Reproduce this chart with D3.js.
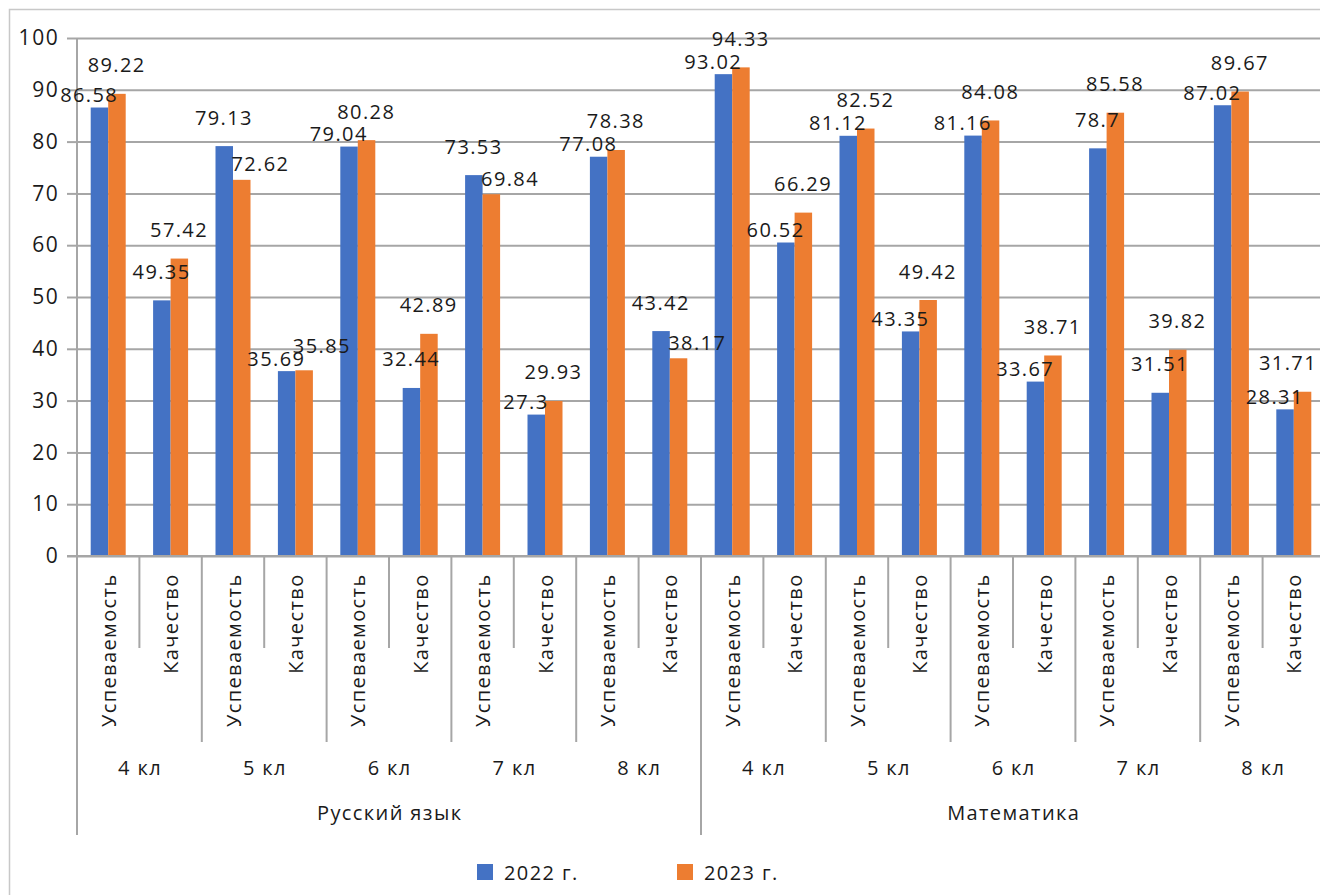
<!DOCTYPE html>
<html>
<head>
<meta charset="utf-8">
<script src="https://cdn.jsdelivr.net/npm/d3@7"></script>
<style>
  html, body { margin: 0; padding: 0; background: #fff; }
  svg { display: block; }
  text { font-family: "Open Sans", "Noto Sans", sans-serif; fill: #1a1a1a; letter-spacing: 1.4px; }
</style>
</head>
<body>
<svg id="chart" width="1320" height="895"></svg>
<script>
// ---- data ----
const subjects = ["Русский язык", "Математика"];
const classes = ["4 кл", "5 кл", "6 кл", "7 кл", "8 кл"];
const metrics = ["Успеваемость", "Качество"];
const seriesNames = ["2022 г.", "2023 г."];
const values2022 = [86.58, 49.35, 79.13, 35.69, 79.04, 32.44, 73.53, 27.3, 77.08, 43.42,
                    93.02, 60.52, 81.12, 43.35, 81.16, 33.67, 78.7, 31.51, 87.02, 28.31];
const values2023 = [89.22, 57.42, 72.62, 35.85, 80.28, 42.89, 69.84, 29.93, 78.38, 38.17,
                    94.33, 66.29, 82.52, 49.42, 84.08, 38.71, 85.58, 39.82, 89.67, 31.71];
const yTicks = [0, 10, 20, 30, 40, 50, 60, 70, 80, 90, 100];
const colors = ["#4472C4", "#ED7D31"];

// ---- build category rows ----
const rows = [];
subjects.forEach((s, si) => classes.forEach((c, ci) => metrics.forEach((m, mi) => {
  const i = rows.length;
  rows.push({ i, subject: s, cls: c, metric: m, v: [values2022[i], values2023[i]] });
})));

// ---- layout ----
const svg = d3.select("#chart");
const plotL = 77, plotR = 1325, plotT = 38, plotB = 556;
const chartRight = 1317;
const fs = 20;
const ls = 1.4;

const x = d3.scaleBand().domain(rows.map(r => r.i)).range([plotL, plotR]).paddingInner(0).paddingOuter(0);
const xs = d3.scaleBand().domain([0, 1]).range([0, x.bandwidth()]).paddingInner(0).paddingOuter(0.783);
const y = d3.scaleLinear().domain([0, 100]).range([plotB, plotT]);

// chart border (left & top visible)
svg.append("path").attr("d", `M9.5,895 V9.5 H1320`).attr("fill", "none")
  .attr("stroke", "#c8c8c8").attr("stroke-width", 1.5);

// gridlines
const grid = svg.append("g").attr("transform", `translate(${plotL},0)`)
  .call(d3.axisLeft(y).tickValues(yTicks).tickSize(-(plotR - plotL)).tickFormat(""));
grid.select(".domain").remove();
grid.selectAll("line").attr("stroke", "#a6a6a6").attr("stroke-width", 2);

// y axis
const yAx = svg.append("g").attr("transform", `translate(${plotL},0)`)
  .call(d3.axisLeft(y).tickValues(yTicks).tickSize(10).tickPadding(9 - ls).tickFormat(d3.format("d")));
yAx.select(".domain").remove();
yAx.selectAll("line").attr("stroke", "#a6a6a6").attr("stroke-width", 2);
yAx.selectAll("text").attr("font-size", fs + 1).attr("font-family", '"Open Sans", sans-serif')
  .attr("fill", "#1a1a1a").style("letter-spacing", "1.6px");

// bars
const barG = svg.append("g");
rows.forEach(r => {
  r.v.forEach((v, k) => {
    barG.append("rect")
      .attr("x", x(r.i) + xs(k))
      .attr("y", y(v))
      .attr("width", xs.bandwidth())
      .attr("height", y(0) - y(v))
      .attr("fill", colors[k]);
  });
});

// y axis vertical line & baseline
svg.append("line").attr("x1", plotL).attr("x2", plotL).attr("y1", plotT).attr("y2", 835)
  .attr("stroke", "#a6a6a6").attr("stroke-width", 2);
svg.append("line").attr("x1", plotL - 10).attr("x2", plotR).attr("y1", plotB).attr("y2", plotB)
  .attr("stroke", "#a6a6a6").attr("stroke-width", 2);

// category separators (multi-level)
const sepG = svg.append("g");
for (let b = 0; b <= rows.length; b++) {
  const bx = b < rows.length ? x(b) : plotR;
  let y2 = 648;
  if (b % 10 === 0) y2 = 835; else if (b % 2 === 0) y2 = 742;
  sepG.append("line").attr("x1", bx).attr("x2", bx).attr("y1", plotB).attr("y2", y2)
    .attr("stroke", "#a6a6a6").attr("stroke-width", 2);
}

// level 1 labels (rotated)
svg.append("g").selectAll("text").data(rows).join("text")
  .attr("transform", r => `translate(${x(r.i) + x.bandwidth() / 2},${572 + ls}) rotate(-90)`)
  .attr("text-anchor", "end").attr("dominant-baseline", "central")
  .attr("font-size", fs).text(r => r.metric);

// level 2 labels
const pairs = d3.range(0, rows.length, 2);
svg.append("g").selectAll("text").data(pairs).join("text")
  .attr("x", i => x(i) + x.bandwidth() + ls / 2)
  .attr("y", 767).attr("text-anchor", "middle").attr("dominant-baseline", "central")
  .attr("font-size", fs).text(i => rows[i].cls);

// level 3 labels
svg.append("g").selectAll("text").data(subjects).join("text")
  .attr("x", (s, si) => (x(si * 10) + (si * 10 + 10 < rows.length ? x(si * 10 + 10) : plotR)) / 2 + ls / 2)
  .attr("y", 812).attr("text-anchor", "middle").attr("dominant-baseline", "central")
  .attr("font-size", fs).text(s => s);

// data labels
const labG = svg.append("g");
rows.forEach(r => {
  const [b, o] = r.v;
  const diff = Math.abs(b - o);
  r.v.forEach((v, k) => {
    let dx = -1, dy = -29;
    const isLower = (k === 0 && b <= o) || (k === 1 && o < b);
    if (diff < 6.6 && isLower) {
      if (k === 0) { dx = -11; dy = -13; } else { dx = 18; dy = -16; }
    } else if (diff < 1 && k === 1) {
      dx = 17; dy = -25;
    }
    const t = labG.append("text")
      .attr("x", x(r.i) + xs(k) + xs.bandwidth() / 2 + dx + ls / 2)
      .attr("y", y(v) + dy)
      .attr("text-anchor", "middle").attr("dominant-baseline", "central")
      .attr("font-size", fs).text(String(v));
    const bb = t.node().getBBox();
    if (bb.x + bb.width > chartRight) t.attr("x", +t.attr("x") - (bb.x + bb.width - chartRight));
  });
});

// legend
const leg = svg.append("g");
const legX = [477, 677];
seriesNames.forEach((n, k) => {
  leg.append("rect").attr("x", legX[k]).attr("y", 864).attr("width", 16).attr("height", 16).attr("fill", colors[k]);
  leg.append("text").attr("x", legX[k] + 27).attr("y", 872).attr("dominant-baseline", "central")
    .attr("font-size", fs).text(n);
});
</script>
</body>
</html>
